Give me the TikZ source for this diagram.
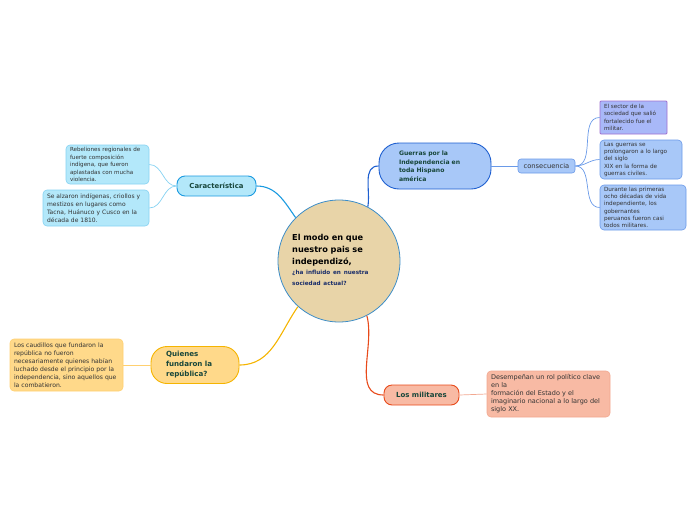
\documentclass[tikz,border=0pt]{standalone}
\usepackage{fontspec}
\setmainfont{DejaVu Sans}
\usetikzlibrary{positioning}

\definecolor{tanfill}{HTML}{E8D4A8}
\definecolor{ringblue}{HTML}{3C8DC8}
\definecolor{cyanfill}{HTML}{B3E8FA}
\definecolor{cyanline}{HTML}{1A9AE0}
\definecolor{cyanlight}{HTML}{86D2F2}
\definecolor{bluefill}{HTML}{A8C8F8}
\definecolor{blueline}{HTML}{1E5FD0}
\definecolor{bluelight}{HTML}{6A9AE8}
\definecolor{purpleline}{HTML}{A070D0}
\definecolor{purplefill}{HTML}{A8B8F8}
\definecolor{yellowfill}{HTML}{FFD98A}
\definecolor{yellowline}{HTML}{F5B400}
\definecolor{yellowlight}{HTML}{FFD070}
\definecolor{salmonfill}{HTML}{F8BAA4}
\definecolor{redline}{HTML}{E84A1A}
\definecolor{salmonlight}{HTML}{F2A890}
\definecolor{headtext}{HTML}{17463A}
\definecolor{bodytext}{HTML}{333333}
\definecolor{navytext}{HTML}{1A2E6A}

\begin{document}
\begin{tikzpicture}[x=1pt,y=-1pt,
    topic/.style={draw,line width=0.9pt,rounded corners=8pt,font=\bfseries\fontsize{6.9}{9}\selectfont,
        text=headtext,inner sep=0pt,align=center},
    note/.style={draw,line width=0.6pt,rounded corners=4pt,font=\fontsize{5.6}{7.6}\selectfont,
        text=bodytext,inner xsep=4pt,inner ysep=0pt,align=left},
    branch/.style={line width=1.1pt},
    twig/.style={line width=0.7pt}]
\useasboundingbox (0,0) rectangle (696,520);

% centre
\node[circle,draw=ringblue,fill=tanfill,line width=0.8pt,minimum size=122pt,inner sep=0pt] (C) at (339,261) {};
\node[text width=94pt,align=left,inner sep=0pt,anchor=north west,font=\bfseries\fontsize{8.2}{12}\selectfont] (Ctext) at (292,234)
    {El modo en que\\ nuestro pais se\\ independizó,\\[-1.5pt]
     {\color{navytext}\fontsize{5.7}{11}\selectfont ¿ha influido en nuestra}\\[-1pt]
     {\color{navytext}\fontsize{5.7}{11}\selectfont sociedad actual?}};

% Caracteristica
\node[topic,fill=cyanfill,draw=cyanline,minimum width=79pt,minimum height=20pt] (Car) at (216.5,186) {Característica};
\node[note,fill=cyanfill,draw=cyanlight,text width=75pt,minimum height=39pt,font=\fontsize{5.6}{7.5}\selectfont] (Reb) at (107.5,164.5)
    {Rebeliones regionales de\\ fuerte composición\\ indígena, que fueron\\ aplastadas con mucha\\ violencia.};
\node[note,fill=cyanfill,draw=cyanlight,text width=98pt,minimum height=36pt,font=\fontsize{6}{8}\selectfont] (Alz) at (96,208)
    {Se alzaron indígenas, criollos y\\ mestizos en lugares como\\ Tacna, Huánuco y Cusco en la\\ década de 1810.};

% Guerras
\node[topic,fill=bluefill,draw=blueline,rounded corners=20pt,minimum width=112pt,minimum height=46pt,
      text width=72pt,inner xsep=20pt,align=left,font=\bfseries\fontsize{6.1}{8.5}\selectfont] (Gue) at (435,166)
    {Guerras por la\\ Independencia en\\ toda Hispano\\ américa};
\node[topic,fill=bluefill,draw=bluelight,line width=0.6pt,rounded corners=3pt,minimum width=57pt,minimum height=14pt,
      font=\fontsize{6.7}{8}\selectfont,text=bodytext] (Con) at (546.5,166) {consecuencia};
\node[note,fill=purplefill,draw=purpleline,line width=0.8pt,rounded corners=1pt,text width=59pt,minimum height=33pt,
      font=\fontsize{5.6}{7.3}\selectfont] (Sec) at (633.5,117.5)
    {El sector de la\\ sociedad que salió\\ fortalecido fue el\\ militar.};
\node[note,fill=bluefill,draw=bluelight,text width=74pt,minimum height=39pt,font=\fontsize{5.7}{7.3}\selectfont] (Pro) at (641,159.5)
    {Las guerras se\\ prolongaron a lo largo\\ del siglo\\ XIX en la forma de\\ guerras civiles.};
\node[note,fill=bluefill,draw=bluelight,text width=78pt,minimum height=45pt,font=\fontsize{5.7}{7.3}\selectfont] (Dur) at (643,207.5)
    {Durante las primeras\\ ocho décadas de vida\\ independiente, los\\ gobernantes\\ peruanos fueron casi\\ todos militares.};

% Quienes
\node[topic,fill=yellowfill,draw=yellowline,rounded corners=16pt,minimum width=88pt,minimum height=37pt,
      text width=58pt,inner xsep=15pt,align=left,font=\bfseries\fontsize{7.1}{10}\selectfont] (Qui) at (195,365)
    {Quienes\\ fundaron la\\ república?};
\node[note,fill=yellowfill,draw=yellowlight,text width=105pt,minimum height=52pt,font=\fontsize{6.1}{8}\selectfont] (Cau) at (66.5,365)
    {Los caudillos que fundaron la\\ república no fueron\\ necesariamente quienes habían\\ luchado desde el principio por la\\ independencia, sino aquellos que\\ la combatieron.};

% Los militares
\node[topic,fill=salmonfill,draw=redline,minimum width=75pt,minimum height=20pt,font=\bfseries\fontsize{7}{9}\selectfont] (Mil) at (421.5,395) {Los militares};
\node[note,fill=salmonfill,draw=salmonlight,text width=115pt,minimum height=46pt,font=\fontsize{6.5}{8}\selectfont] (Des) at (548.5,394)
    {Desempeñan un rol político clave\\ en la\\ formación del Estado y el\\ imaginario nacional a lo largo del\\ siglo XX.};

% connectors
\path[branch]
    (C.135) edge[draw=cyanline,out=125,in=0] (Car.east)
    (C.62) edge[draw=blueline,out=80,in=180] (Gue.west)
    (C.228) edge[draw=yellowline,out=235,in=0] (Qui.east)
    (C.297) edge[draw=redline,out=285,in=180] (Mil.west);
\path[twig]
    (Car.west) edge[draw=cyanlight,out=180,in=0] (Reb.east)
               edge[draw=cyanlight,out=180,in=0] (Alz.east)
    (Gue.east) edge[draw=bluelight] (Con.west)
    (Con.east) edge[draw=bluelight,out=0,in=180] (Sec.west)
               edge[draw=bluelight,out=0,in=180] (Pro.west)
               edge[draw=bluelight,out=0,in=180] (Dur.west)
    (Qui.west) edge[draw=yellowlight] (Cau.east)
    (Mil.east) edge[draw=salmonlight] (Des.west);
\end{tikzpicture}
\end{document}
